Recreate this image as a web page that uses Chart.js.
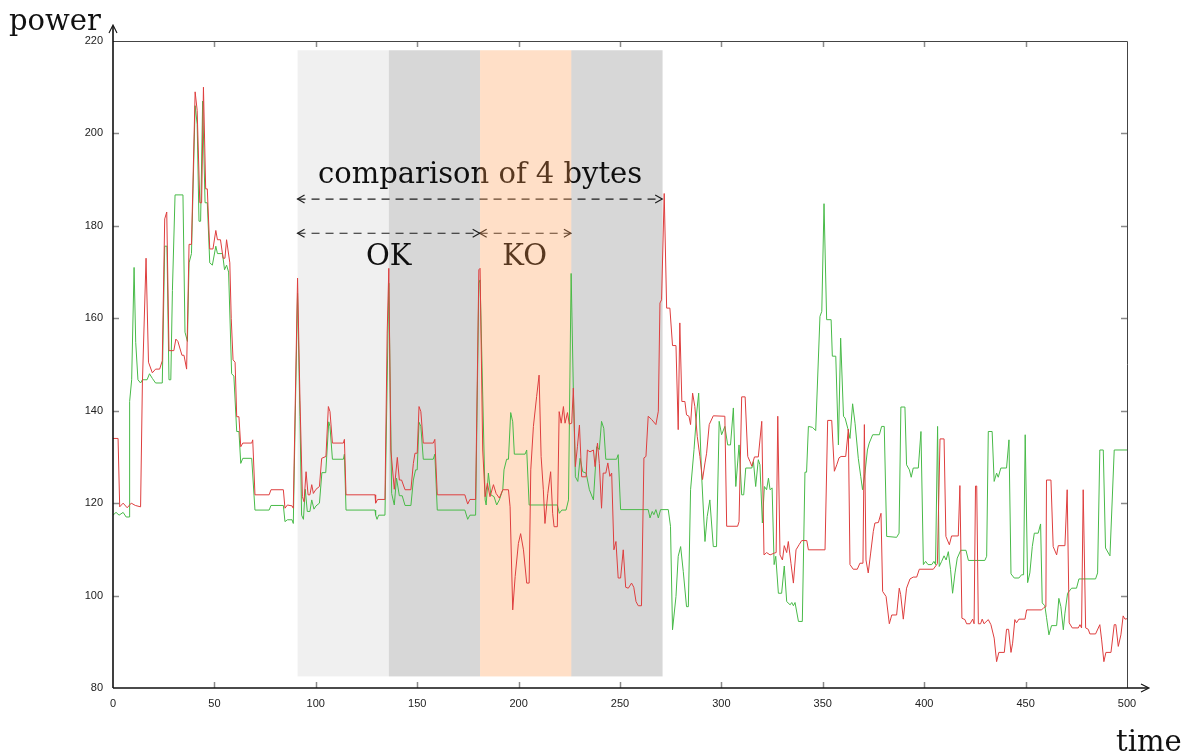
<!DOCTYPE html>
<html>
<head>
<meta charset="utf-8">
<script src="https://cdn.jsdelivr.net/npm/chart.js@4"></script>
<style>
  body { margin: 0; background: #fff; }
  canvas { display: block; }
</style>
</head>
<body>
<canvas id="powerChart" width="1192" height="756"></canvas>
<script>
// power trace readings, [time, power]
const redTrace = [
  [0,134],[2.5,134],[3.3,119.2],[5,120],[7,119],[9,120],[11,119.5],[13.6,119.2],[14.5,146],[16.3,173],
  [17.5,150.5],[19.4,148.2],[21,149],[23,149],[24.3,150.8],[25.5,181.5],[26.5,183],[27.6,153],[30,153],[31,155.5],
  [32,155],[34,152],[35,152],[36.3,149],[37.5,176],[38.7,176],[40.5,209],[41.5,205],[42.8,185],[43.7,185],
  [44.6,210],[45.7,188],[46.5,188],[47.7,175],[49.3,175],[50.7,179],[51.5,177],[53,177],[54.3,173],[55.2,173],
  [56,177],[57.6,172],[58.3,160],[59.2,151],[60.2,150.5],[61,138.7],[62.1,138.7],[63,132.2],[64,133],[68.4,133],
  [68.9,133.7],[70,121.8],[77,121.8],[77.9,122.9],[84,122.9],[84.8,118.9],[86,119.6],[88.3,119.4],[88.9,118.9],[91,168.7],
  [92.2,142.3],[93.4,121.4],[94.2,120.3],[95.2,126.8],[96.2,121.8],[97.1,121.8],[98,124],[98.8,122.1],[100.1,123],[101.8,123.6],
  [102.9,129.7],[105,130.1],[106.2,140.9],[107,139.8],[108.2,133],[113.6,133],[114.1,133.8],[114.9,121.8],[129.2,121.8],[129.5,120],
  [130.5,120.8],[134.1,120.8],[135.2,156.8],[136,170.8],[137,131.5],[138.7,123],[140.2,129.9],[141.2,125],[142.3,125],[144,122.9],
  [146.9,122.9],[148.1,128.6],[148.9,130.8],[150,130.8],[150.9,140.9],[151.8,139.8],[153,133],[157.9,133],[158.7,133.8],[159.9,121.8],
  [173.5,121.8],[174.9,119.8],[176,120.8],[178.8,120.8],[180.4,170.5],[181,170.8],[182.3,131.5],[183.5,121.4],[184.6,124.3],[185.9,121.4],
  [187.6,124],[188.9,122.1],[190.5,121.1],[192.2,122.9],[195,122.9],[195.8,119.2],[197.1,96.9],[198.3,104.1],[199.9,111.3],[201,113.4],
  [202.4,109.9],[204,102.7],[205.2,102.7],[206,127.2],[207.3,136.6],[208.9,143.1],[210.1,147.7],[211.1,130.1],[212.2,122.9],[213,115.6],
  [214.4,122.1],[215.8,126.8],[216.8,117.8],[217.5,114.9],[219.1,114.9],[220,139.8],[221,137.3],[222.1,140.9],[222.9,137.3],[224.1,139.6],
  [225,137.1],[226.2,137.3],[227,144.9],[228,127.9],[229,132.2],[230,136.9],[231.1,125.7],[233.3,125.7],[233.9,131.5],[235.2,131.1],
  [236.9,131.5],[237.7,127.9],[238.9,133],[239.8,128.6],[240.9,118.9],[241.7,126.5],[243,126.5],[244,128.7],[245,125.8],[245.9,126.5],
  [247,109.9],[248,111.7],[249.1,103.8],[250.3,103.8],[251.6,109.9],[252.8,101.8],[254.1,101.6],[255.7,102.7],[256.8,101.8],[257.9,98.7],
  [259,97.8],[260.6,97.8],[261.8,129.8],[262.8,130.1],[263.9,138.8],[265.6,138.1],[267.7,137],[268.9,139.9],[269.7,163.3],[270.5,164],
  [271.8,187],[273,162.2],[274.6,162.2],[275.9,154.1],[277.6,154.1],[278.7,135.9],[279.5,159],[280.5,142],[282,142],[282.8,139.1],
  [284,138.8],[284.8,137],[285.8,143.8],[286.9,140.9],[288.1,134.4],[289.4,130.1],[290.7,125.1],[291.9,128.7],[292.7,130.8],[294,137],
  [296,138.9],[301.7,138.8],[302.6,115],[308,115],[308.7,116],[310,143],[311.7,143],[313,130.1],[314.1,129],[315,128],
  [316.3,130],[318.2,130],[319.9,137.7],[321,108.8],[322.3,109.3],[324,108.8],[326.1,109.2],[327,109.3],[327.8,138.8],[328.9,108.8],
  [330.1,107.7],[331,110.8],[332.2,109.3],[333,111.7],[334.3,107],[335.5,102.7],[336.8,109.9],[338.3,111],[339.6,111.9],[342.1,111.9],
  [342.9,109.9],[351.1,109.9],[352.4,137.9],[354.4,137.9],[355.7,126.9],[356.9,128.3],[358,129.8],[359,130.1],[361.3,130.1],[362.6,136],
  [363.4,106.7],[365,105.7],[367,105.7],[368.3,107],[369.8,107],[370.5,137],[371.3,107.7],[372.4,104.9],[373.6,109.2],[374.9,113.9],
  [375.7,115.7],[377.4,115.8],[378.7,117.8],[379.5,100.9],[381.2,99.8],[382.8,93.9],[384,95.8],[386.4,95.8],[387.7,101.6],[388.4,100.2],
  [389.7,94.9],[391.3,101.6],[393,103.6],[394.6,104],[396.3,104],[397.6,105.7],[404.5,105.7],[406.5,106.9],[407.8,133.9],[409.8,133.9],
  [410.7,112.8],[412.4,111],[413.5,112.9],[416.8,112.9],[417.6,123.8],[418.6,95.1],[420.1,94.8],[420.9,93.9],[422.6,93.9],[423.9,94.9],
  [424.6,93.9],[425.3,123.7],[425.9,123.7],[426.7,93.9],[427.8,93.9],[428.6,94.9],[429.5,93.9],[431.6,94.8],[432.9,93.7],[434.5,90.8],
  [435.7,85.7],[436.8,87.7],[439.5,87.7],[440.6,92.7],[441.6,92.7],[442.8,87.7],[443.6,89.7],[444.7,94.8],[445.5,94.1],[446.7,94.9],
  [449.7,94.9],[450.5,96.9],[457.9,96.9],[459,97.4],[460,97.6],[460.3,125],[462.5,125],[463.6,110.6],[465.3,108.8],[466.1,110.8],
  [469.4,110.8],[470.5,122.9],[471.5,94.1],[473,93],[476,93],[476.8,93.7],[477.6,93],[478.4,122.9],[479.6,93],[480.9,92.7],
  [481.7,91.7],[484.5,91.7],[486.6,93.7],[487.5,90.4],[488.6,85.7],[489.6,87.7],[492.1,87.7],[493.7,93.7],[494.5,93.7],[495.7,89],
  [497,91.5],[498.1,95.6],[499,94.9],[500,95]
];

const greenTrace = [
  [0,117.4],[1.5,118],[3,117.4],[5,118],[6.5,117],[8,117],[8.2,142],[9.2,146.7],[10.4,171],[11.2,154.8],
  [12.3,146.7],[13.6,146],[14.5,146.7],[16.8,146.7],[18,148],[19.4,147],[21,146],[24.3,146],[25.5,175.6],[26.6,175.6],
  [27.6,146.7],[28.5,146.7],[29.3,166],[30.6,186.7],[34.5,186.7],[35.5,157],[36.7,155],[37.5,172],[38.7,174],[40.5,206],
  [41.5,202],[42.4,181],[43.2,181],[44.2,207],[45.4,185],[46.5,185],[47.7,172],[49,171.5],[50.7,175.6],[51.5,174],
  [54,174],[55,170.5],[56,171.5],[57,170],[58.5,148],[59.6,147.5],[61,135.5],[62.1,135.5],[63,128.6],[64,129.7],
  [68.4,129.7],[70,118.5],[77,118.5],[77.9,119.5],[84,119.5],[84.8,116],[86,116.4],[88.3,116.4],[88.9,115.6],[91,165.4],
  [92.2,138.7],[93,117.4],[93.9,116.5],[94.8,123],[95.8,118.2],[97.1,118.2],[98,120.7],[99.1,118.7],[100.1,119.4],[101.8,120],
  [103,126.6],[104.9,126.6],[106.4,137.6],[107,136.6],[108.2,129.5],[113.6,129.5],[114.1,130.6],[114.9,118.5],[129.2,118.5],[129.5,117.4],
  [130.2,116.5],[131,117.4],[134.1,117.4],[136,167.6],[137.4,122.1],[138.7,119.6],[139.8,125.4],[141.2,121.6],[142.6,121.6],[144,119.5],
  [146.9,119.5],[148.1,125],[149.2,127.2],[150,127.2],[150.9,137.5],[151.8,136.6],[153,129.5],[157.9,129.5],[158.7,130.6],[159.9,118.5],
  [173.5,118.5],[174.9,116.5],[176,117.4],[178.8,117.4],[180.4,167.6],[181,168.3],[183.5,120.7],[184,119.6],[185.1,126.5],[186.3,121.8],
  [187.9,121.4],[189.2,119.6],[190.5,120.7],[192.2,122.9],[192.8,127.2],[194.1,129.5],[195,129.5],[196.1,139.6],[197.1,137.6],[197.9,130.6],
  [203.2,130.6],[204,131.5],[205.2,119.6],[219.1,119.6],[220.1,117.8],[221.3,118.5],[223.4,118.5],[224.6,120.7],[225.9,169.7],[227,144.5],
  [228,125.7],[229.2,124.7],[230.3,129.7],[231.6,126.8],[233.3,126.5],[234.9,122.9],[236.9,120.7],[238.5,132.2],[239.8,131.6],[240.9,137.7],
  [242,136.2],[243,129.5],[248.3,129.5],[249.1,130.5],[250.3,118.6],[263.9,118.6],[264.8,116.8],[265.9,118.2],[266.7,117.5],[267.7,118.6],
  [268.9,116.8],[270,118.6],[273.8,118.6],[274.9,115],[275.9,92.6],[277.6,99.8],[278.7,108.5],[279.9,110.6],[281.2,105.2],[282.8,97.6],
  [283.7,97.6],[284.8,122.9],[286.5,131.6],[287.8,139.5],[288.8,143.8],[290.2,126.5],[291.9,111.7],[293,117.1],[294.3,120.7],[296,110.6],
  [297.6,110.6],[298.9,137.7],[300.1,134.8],[301.7,136.6],[303.1,132.6],[304.5,132.6],[305.9,140.6],[307.1,123.6],[308.7,132.6],[310,121.8],
  [311,121.8],[312,127.6],[315,127.6],[315.8,129],[316.9,123.6],[318.2,129.4],[319,128.3],[320.2,115.7],[321.2,123.6],[322.3,122.9],
  [323.2,125.4],[324,122.9],[325,123.3],[326,106.7],[326.8,108.5],[328.1,100.5],[329.7,100.5],[331,106.4],[332.2,98.7],[333.9,98],
  [334.7,98.5],[335.5,97.8],[336.3,98.5],[338,94.4],[339.9,94.4],[341.2,126.7],[342,126.7],[342.9,136.6],[344.9,136.4],[346.5,135.7],
  [348.6,160.4],[349.5,161.5],[350.6,184.8],[351.9,159.7],[354.1,159.7],[354.7,151.8],[356.4,151.8],[357.7,132.6],[358.8,155.7],[360.2,138.8],
  [361,138.4],[362.3,136.2],[363.4,134],[364.7,141.5],[365.9,137.3],[367.5,129.7],[368.7,125.8],[369.6,122.9],[370.8,126.5],[372,131.5],
  [372.9,133],[374.6,134.8],[377.9,134.8],[379,136.6],[380.3,136.6],[381.5,112.8],[386.4,112.6],[387.6,113.5],[388.5,140.8],[390.5,140.8],
  [391.3,128.3],[392.7,127.2],[393.6,125.6],[394.6,127.6],[397.1,127.6],[398.4,135.5],[399.6,106.7],[400.7,107.4],[401.9,106.7],[403.7,106.7],
  [404.8,107.4],[405.6,106.7],[406.6,136.6],[407.4,106.3],[408.6,107.4],[409.8,108.6],[410.8,107.7],[411.9,109.5],[413,105.6],[414,100.5],
  [415.2,104.9],[416.3,108.1],[418,109.8],[420.6,109.8],[421.8,107.6],[429.9,107.6],[430.8,108.5],[431.6,135.5],[433.5,135.5],[434.5,124.7],
  [435.7,126.5],[436.5,125.6],[437.8,127.6],[440.6,127.6],[441.8,133.7],[442.8,104.7],[444.4,103.8],[446.7,103.8],[448,104.5],[449,104.5],
  [449.8,134.8],[451,102.8],[452.1,104.9],[453.3,110.6],[454.3,113.5],[456.2,113.5],[457.4,115.5],[458.2,98.4],[459.5,97.8],[460.3,95.3],
  [461.5,91.5],[462.8,93.5],[465.3,93.5],[466.4,99.4],[467.4,97.6],[468.6,92.6],[469.4,96.2],[470.7,100.5],[472.7,101.6],[475.1,101.6],
  [476.3,103.6],[484.5,103.6],[485.5,104.9],[486.6,131.5],[488.3,131.5],[489.4,110.3],[491.6,108.6],[493.7,131.5],[500,131.5]
];

// byte windows (start, end) and their shading
const byteStarts = [91, 136, 181, 226];
const byteEnds = [136, 181, 226, 271];
const byteShades = ["rgba(0,0,0,0.06)", "rgba(0,0,0,0.155)", "rgba(255,150,70,0.3)", "rgba(0,0,0,0.155)"];

const xTicks = [0, 50, 100, 150, 200, 250, 300, 350, 400, 450, 500];
const yTicks = [80, 100, 120, 140, 160, 180, 200, 220];

const serif = '"DejaVu Serif", serif';

function arrowHead(ctx, x, y, dir) {
  ctx.beginPath();
  ctx.moveTo(x - dir * 7, y - 4);
  ctx.lineTo(x, y);
  ctx.lineTo(x - dir * 7, y + 4);
  ctx.stroke();
}

function dashedArrow(ctx, x1, x2, y) {
  ctx.save();
  ctx.setLineDash([8, 6]);
  ctx.beginPath();
  ctx.moveTo(x1, y);
  ctx.lineTo(x2, y);
  ctx.stroke();
  ctx.restore();
  arrowHead(ctx, x1, y, -1);
  arrowHead(ctx, x2, y, 1);
}

const annotations = {
  id: "annotations",
  beforeDatasetsDraw(chart) {
    const { ctx, scales: { x, y } } = chart;
    ctx.save();
    ctx.fillStyle = "#111";
    ctx.font = "29px " + serif;
    ctx.textAlign = "center";
    ctx.fillText("comparison of 4 bytes", x.getPixelForValue(181), y.getPixelForValue(189.3));
    ctx.fillText("OK", x.getPixelForValue(136), y.getPixelForValue(171.6));
    ctx.fillText("KO", x.getPixelForValue(203), y.getPixelForValue(171.6));

    ctx.strokeStyle = "#222";
    ctx.lineWidth = 1.2;
    dashedArrow(ctx, x.getPixelForValue(91), x.getPixelForValue(270.8), y.getPixelForValue(185.8));
    dashedArrow(ctx, x.getPixelForValue(91), x.getPixelForValue(180.8), y.getPixelForValue(178.4));
    dashedArrow(ctx, x.getPixelForValue(180.8), x.getPixelForValue(225.8), y.getPixelForValue(178.4));

    // shading goes over the text, as in the original
    const top = y.getPixelForValue(218);
    const bottom = y.getPixelForValue(82.5);
    byteStarts.forEach((s, i) => {
      const left = x.getPixelForValue(s);
      const right = x.getPixelForValue(byteEnds[i]);
      ctx.fillStyle = byteShades[i];
      ctx.fillRect(left, top, right - left, bottom - top);
    });
    ctx.restore();
  },
  afterDraw(chart) {
    const { ctx, chartArea: a, scales: { x, y } } = chart;
    ctx.save();
    // inner ticks
    ctx.strokeStyle = "#8a8a8a";
    ctx.lineWidth = 1.5;
    ctx.beginPath();
    xTicks.slice(1, -1).forEach((t) => {
      const px = Math.round(x.getPixelForValue(t)) + 0.5;
      ctx.moveTo(px, a.bottom); ctx.lineTo(px, a.bottom - 6);
      ctx.moveTo(px, a.top); ctx.lineTo(px, a.top + 6);
    });
    yTicks.slice(1, -1).forEach((t) => {
      const py = Math.round(y.getPixelForValue(t)) + 0.5;
      ctx.moveTo(a.left, py); ctx.lineTo(a.left + 6, py);
      ctx.moveTo(a.right, py); ctx.lineTo(a.right - 6, py);
    });
    ctx.stroke();

    // top and right border
    ctx.strokeStyle = "#444";
    ctx.lineWidth = 1;
    ctx.beginPath();
    ctx.moveTo(a.left, a.top + 0.5); ctx.lineTo(a.right + 0.5, a.top + 0.5);
    ctx.lineTo(a.right + 0.5, a.bottom);
    ctx.stroke();

    // axes with arrows
    ctx.strokeStyle = "#111";
    ctx.lineWidth = 1.6;
    ctx.beginPath();
    ctx.moveTo(a.left, a.bottom); ctx.lineTo(a.left, a.top - 15);
    ctx.moveTo(a.left, a.bottom); ctx.lineTo(a.right + 21, a.bottom);
    ctx.stroke();
    ctx.lineWidth = 1.1;
    ctx.beginPath();
    ctx.moveTo(a.left - 4, a.top - 8); ctx.lineTo(a.left, a.top - 16); ctx.lineTo(a.left + 4, a.top - 8);
    ctx.moveTo(a.right + 14, a.bottom - 4); ctx.lineTo(a.right + 22, a.bottom); ctx.lineTo(a.right + 14, a.bottom + 4);
    ctx.stroke();

    // axis titles
    ctx.fillStyle = "#111";
    ctx.font = "29px " + serif;
    ctx.textAlign = "left";
    ctx.fillText("power", 9, 30);
    ctx.fillText("time", 1116, 751);
    ctx.restore();
  }
};

new Chart(document.getElementById("powerChart"), {
  type: "line",
  data: {
    datasets: [
      {
        label: "red",
        data: redTrace.map((p) => ({ x: p[0], y: p[1] })),
        borderColor: "rgb(222,62,62)",
        borderWidth: 1,
        pointRadius: 0,
        tension: 0,
      },
      {
        label: "green",
        data: greenTrace.map((p) => ({ x: p[0], y: p[1] })),
        borderColor: "rgb(72,186,72)",
        borderWidth: 1,
        pointRadius: 0,
        tension: 0,
      },
    ],
  },
  options: {
    responsive: false,
    animation: false,
    devicePixelRatio: 1,
    layout: { padding: { left: 0, top: 41, right: 65, bottom: 0 } },
    plugins: { legend: { display: false }, tooltip: { enabled: false } },
    scales: {
      x: {
        type: "linear",
        min: 0,
        max: 500,
        grid: { display: false, drawTicks: false },
        border: { display: false },
        ticks: {
          stepSize: 50,
          autoSkip: false,
          maxRotation: 0,
          padding: 9,
          color: "#222",
          font: { family: '"Liberation Sans", Arial, sans-serif', size: 11 },
        },
        afterFit(scale) { scale.height = 68; },
      },
      y: {
        min: 80,
        max: 220,
        grid: { display: false, drawTicks: false },
        border: { display: false },
        ticks: {
          stepSize: 20,
          padding: 10,
          color: "#222",
          font: { family: '"Liberation Sans", Arial, sans-serif', size: 11 },
        },
        afterFit(scale) { scale.width = 113; },
      },
    },
  },
  plugins: [annotations],
});
</script>
</body>
</html>
